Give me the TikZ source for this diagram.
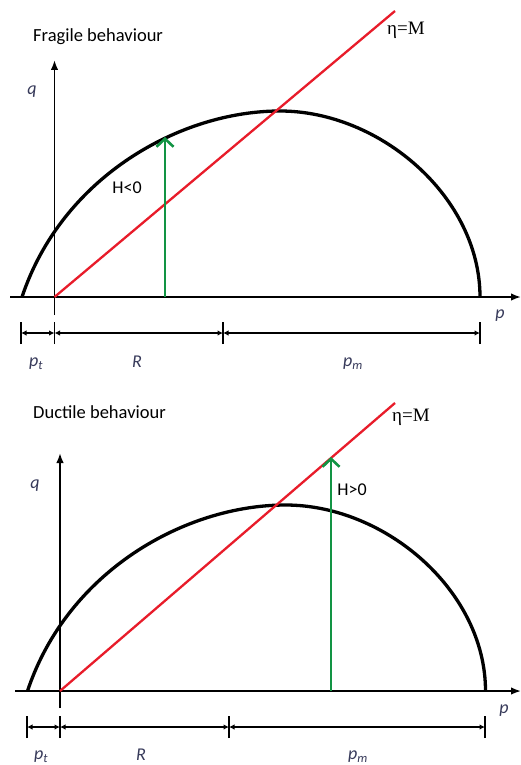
\documentclass[tikz,border=0pt]{standalone}
\usepackage{fontspec}
\setmainfont{Carlito}
\newfontfamily\etafont{Liberation Serif}
\usetikzlibrary{arrows.meta}
\definecolor{redl}{RGB}{232,28,42}
\definecolor{greenl}{RGB}{18,148,68}
\definecolor{axlab}{RGB}{55,58,90}
\begin{document}
\begin{tikzpicture}[x=1pt,y=-1pt,
  yieldcurve/.style={line width=3.3pt,black},
  axisline/.style={line width=1.6pt,black,-{Latex[length=10pt,width=7.5pt]}},
  qline/.style={line width=1.6pt,black},
  cslline/.style={line width=2.3pt,redl},
  harrow/.style={line width=2.6pt,greenl,-{Straight Barb[length=8pt,width=17pt,line width=2.6pt]}},
  dimarrow/.style={line width=1.2pt,black,{Latex[length=5.5pt,width=5.5pt]}-{Latex[length=5.5pt,width=5.5pt]}},
  dimtick/.style={line width=1.8pt,black},
  titletext/.style={font=\fontsize{18.5}{20}\selectfont,anchor=west,inner sep=0pt},
  etatext/.style={font=\etafont\fontsize{19}{20}\selectfont,anchor=west,inner sep=0pt},
  htext/.style={font=\fontsize{18}{20}\selectfont,inner sep=0pt},
  axtext/.style={font=\itshape\fontsize{18}{20}\selectfont,text=axlab,inner sep=0pt},
  ]
\useasboundingbox (0,0) rectangle (520,765);
\fill[white] (0,0) rectangle (520,765);

% ================= TOP: fragile =================
\node[titletext] (t1) at (33,37) {Fragile behaviour};
\coordinate (o1) at (54.5,297);
\coordinate (qb1) at (54.5,315);
\coordinate (qt1) at (54.5,60);
\coordinate (pl1) at (10,297);
\coordinate (pr1) at (521,297);
\draw[qline] (qb1) -- (o1);
\draw[axisline] (o1) -- (qt1);
\draw[axisline] (pl1) -- (pr1);
\node[axtext] (q1) at (32,92) {q};
\node[axtext] (p1) at (500,316) {p};
\coordinate (a1) at (22,297);
\coordinate (m1) at (280,111);
\coordinate (b1) at (480,297);
\draw[yieldcurve] (a1) .. controls (62,177) and (180,111) .. (m1)
  .. controls (380,111) and (480,197) .. (b1);
\coordinate (r1) at (395,11);
\draw[cslline] (o1) -- (r1);
\node[etatext] (e1) at (387,30) {η=M};
\coordinate (g1a) at (165,297);
\coordinate (g1b) at (165,137);
\draw[harrow] (g1a) -- (g1b);
\node[htext] (h1) at (127,188) {H<0};
% dimensions
\coordinate (d1a) at (21,333);
\coordinate (d1b) at (54.5,333);
\coordinate (d1c) at (223,333);
\coordinate (d1d) at (480,333);
\foreach \c in {d1a,d1b,d1c,d1d}{\draw[dimtick] ([yshift=-11pt]\c) -- ([yshift=11pt]\c);}
\draw[dimarrow] (d1a) -- (d1b);
\draw[dimarrow] (d1b) -- (d1c);
\draw[dimarrow] (d1c) -- (d1d);
\node[axtext] (pt1) at (36,364) {p\textsubscript{t}};
\node[axtext] (R1) at (137,362) {R};
\node[axtext] (pm1) at (353,364) {p\textsubscript{m}};

% ================= BOTTOM: ductile =================
\node[titletext] (t2) at (33,412) {Ductile behaviour};
\coordinate (o2) at (60,691);
\coordinate (qb2) at (60,708);
\coordinate (qt2) at (60,453);
\coordinate (pl2) at (15,691);
\coordinate (pr2) at (521,691);
\draw[qline] (qb2) -- (o2);
\draw[axisline] (o2) -- (qt2);
\draw[axisline] (pl2) -- (pr2);
\node[axtext] (q2) at (35,486) {q};
\node[axtext] (p2) at (504,711) {p};
\begin{scope}[shift={(5.5,394)}]
\coordinate (a2) at (22,297);
\coordinate (m2) at (280,111);
\coordinate (b2) at (480,297);
\draw[yieldcurve] (a2) .. controls (62,177) and (180,111) .. (m2)
  .. controls (380,111) and (480,197) .. (b2);
\end{scope}
\coordinate (r2) at (395,403);
\draw[cslline] (o2) -- (r2);
\node[etatext] (e2) at (392,417) {η=M};
\coordinate (g2a) at (331,691);
\coordinate (g2b) at (331,457);
\draw[harrow] (g2a) -- (g2b);
\node[htext] (h2) at (352,490) {H>0};
% dimensions
\coordinate (d2a) at (27,727);
\coordinate (d2b) at (60,727);
\coordinate (d2c) at (229,727);
\coordinate (d2d) at (485,727);
\foreach \c in {d2a,d2b,d2c,d2d}{\draw[dimtick] ([yshift=-11pt]\c) -- ([yshift=11pt]\c);}
\draw[dimarrow] (d2a) -- (d2b);
\draw[dimarrow] (d2b) -- (d2c);
\draw[dimarrow] (d2c) -- (d2d);
\node[axtext] (pt2) at (41,757) {p\textsubscript{t}};
\node[axtext] (R2) at (141,755) {R};
\node[axtext] (pm2) at (358,757) {p\textsubscript{m}};
\end{tikzpicture}
\end{document}
